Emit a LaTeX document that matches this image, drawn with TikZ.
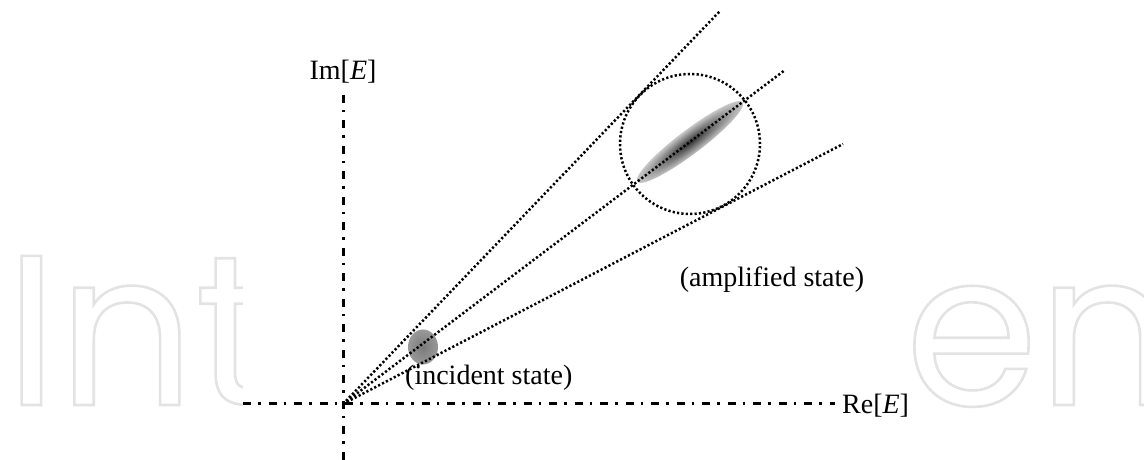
\documentclass[tikz,border=0pt]{standalone}
\usepackage{fontspec}
\setmainfont{Liberation Serif}
\newfontfamily\wmfont{Poppins}
\newcommand{\outlinetext}[1]{\special{pdf:literal direct q 1 Tr 2.6 w 0.89 G}#1\special{pdf:literal direct Q}}
\tikzset{
  axisline/.style={line width=3pt, dash pattern=on 8pt off 7pt on 2.5pt off 8pt},
  rayline/.style={line width=2.5pt, dash pattern=on 2.2pt off 2.2pt},
  lbl/.style={font=\fontsize{28}{32}\selectfont, inner sep=0pt},
  wm/.style={anchor=base west, inner sep=0pt, font=\wmfont\fontsize{214}{214}\selectfont},
}
\begin{document}
\begin{tikzpicture}[x=1pt,y=1pt]
\useasboundingbox (0,0) rectangle (1144,460);
% watermark (outlined letters)
\node[wm] (wm1) at (5,55) {\outlinetext{Int}};
\node[wm] (wm2) at (905,55) {\outlinetext{en}};
\fill[white] (243,0) rectangle (912,460);
% coordinates
\coordinate (O) at (343,56);
\coordinate (vt) at (343,365);
\coordinate (vb) at (343,0);
\coordinate (hl) at (243,56);
\coordinate (hr) at (835,56);
\coordinate (r1) at (720,449);
\coordinate (r2) at (785,390);
\coordinate (r3) at (843,316);
% shaded states
\begin{scope}[transform canvas={shift={(690,318)},rotate=37.07}]
  \shade[inner color=black!80, outer color=black!22] (0,0) ellipse (66pt and 12pt);
\end{scope}
\shade[inner color=black!52, outer color=black!40] (423,113) ellipse (15pt and 17.5pt);
% axes
\draw[axisline] (vt) -- (vb);
\draw[axisline] (hl) -- (hr);
% rays
\draw[rayline] (O) -- (r1);
\draw[rayline] (O) -- (r2);
\draw[rayline] (O) -- (r3);
% circle
\node[draw, rayline, circle, minimum size=140pt, inner sep=0pt] (amp) at (690,316) {};
% labels
\node[lbl] (im) at (343,388) {Im[\textit{E}]};
\node[lbl, anchor=west] (re) at (842,54) {Re[\textit{E}]};
\node[lbl] (ampl) at (772,180) {(amplified state)};
\node[lbl, anchor=west] (inc) at (405,82) {(incident state)};
\end{tikzpicture}
\end{document}
